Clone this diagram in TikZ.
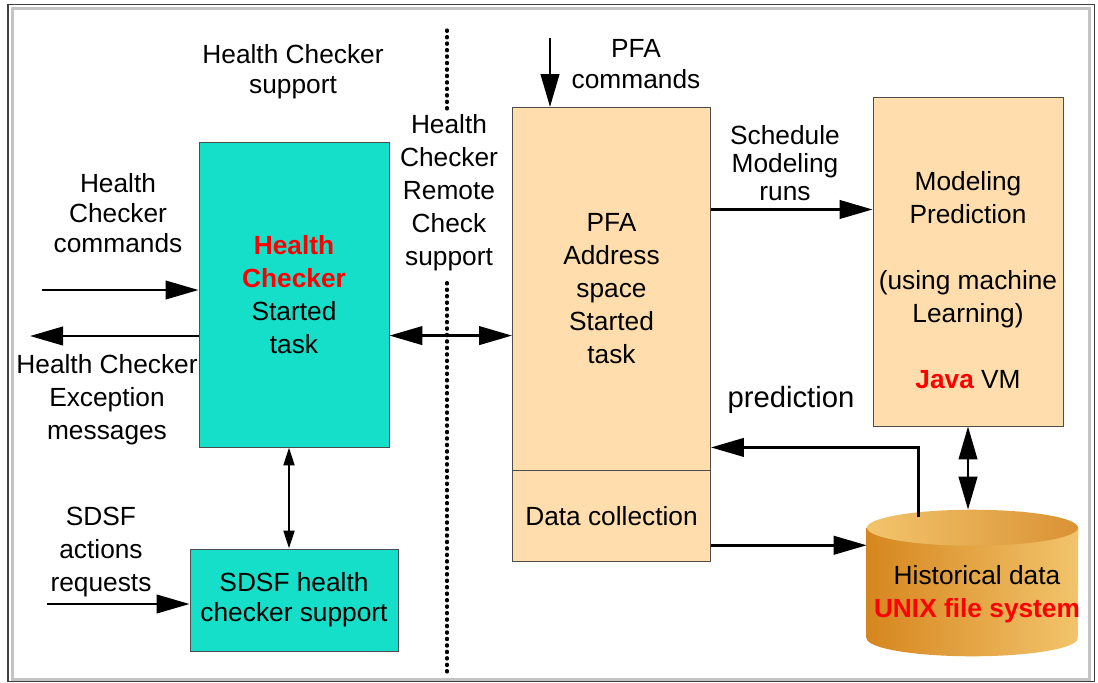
\documentclass[tikz,border=0pt]{standalone}
\usepackage{fontspec}
\setmainfont{Liberation Sans}
\usetikzlibrary{positioning,arrows.meta}
\definecolor{HCTurquesa}{RGB}{22,223,201}
\definecolor{PFACrema}{RGB}{255,221,172}
\definecolor{CilOscuro}{RGB}{214,134,30}
\definecolor{CilClaro}{RGB}{242,196,108}
\definecolor{MarcoGris}{RGB}{195,195,195}
\tikzstyle{HCBase}=[rectangle, draw=black!70, fill=HCTurquesa, line width=0.6pt, align=center]
\tikzstyle{PFABase}=[rectangle, draw=black!70, fill=PFACrema, line width=0.6pt, align=center]
\tikzstyle{Texto}=[align=center, inner sep=0pt]
\tikzstyle{FlechaGruesa}=[-{Triangle[length=8.25mm,width=4.6mm]}, line width=2pt]
\tikzstyle{FlechaDoble}=[{Triangle[length=8.25mm,width=4.6mm]}-{Triangle[length=8.25mm,width=4.6mm]}, line width=2pt]
\tikzstyle{FlechaFina}=[{Triangle[length=4.5mm,width=2.7mm]}-{Triangle[length=4.5mm,width=2.7mm]}, line width=1.8pt]
\tikzstyle{Punteado}=[line width=2.2pt, line cap=round, dash pattern=on 1pt off 3.6pt]
\newcommand{\Rojo}[1]{\textbf{\textcolor{red}{#1}}}

\begin{document}
\begin{tikzpicture}[x=0.25mm, y=-0.25mm, font=\fontsize{18.7}{23.5}\selectfont]
			%Marco
			\useasboundingbox (0,0) rectangle (1098,682);
			\draw[MarcoGris, line width=2pt] (12.5,8.5) rectangle (1089.5,679.5);
			\draw[black!75, line width=1.2pt] (8,4.5) rectangle (1094.5,681.5);

			%Nodos
			\node[HCBase, minimum width=47.5mm, minimum height=76.25mm]		(hc)		at (294,294.5)		{\Rojo{Health}\\\Rojo{Checker}\\Started\\task};
			\node[HCBase, minimum width=52mm, minimum height=25.5mm, font=\fontsize{18.7}{21.5}\selectfont]	(sdsf)	at (294,600)	{SDSF health\\checker support};

			\node[PFABase, minimum width=49.5mm, minimum height=90.625mm]	(pfa)		at (611.5,288.75)	{PFA\\Address\\space\\Started\\task};
			\node[PFABase, minimum width=49.5mm, minimum height=22.75mm]		(dc)		[below=0cm of pfa]	{Data collection};

			\node[PFABase, minimum width=47.5mm, minimum height=82.25mm]		(model)	at (968,261.5)		{\strut\\Modeling\\Prediction\\[\baselineskip](using machine\\Learning)\\[\baselineskip]\Rojo{Java} VM};

			%Cilindro
			\node[minimum width=52.75mm, minimum height=27.5mm, inner sep=0pt]	(hist)	at (972.5,583)		{};
			\shade[left color=CilOscuro, right color=CilClaro] (hist.north west) -- (hist.south west) arc[start angle=180, end angle=360, x radius=26.375mm, y radius=4.5mm] -- (hist.north east) -- cycle;
			\shade[left color=CilClaro, right color=CilOscuro!90] (hist.north) ellipse [x radius=26.375mm, y radius=4.5mm];
			\node[Texto]		(histtxt)	at (977,594.5)		{Historical data\\\Rojo{UNIX file system}};

			%Textos
			\node[Texto, font=\fontsize{18.7}{21.5}\selectfont]	(hcsup)		at (293,72)		{Health Checker\\support};
			\node[Texto, font=\fontsize{18.7}{21.5}\selectfont]	(hccmd)		at (118,213)		{Health\\Checker\\commands};
			\node[Texto]		(hcexc)		at (107,400)		{Health Checker\\Exception\\messages};
			\node[Texto]		(sdsfreq)	at (101,552)		{SDSF\\actions\\requests};
			\node[Texto]		(remote)		at (449,193)		{Health\\Checker\\Remote\\Check\\support};
			\node[Texto, font=\fontsize{18.7}{21.5}\selectfont]	(pfacmd)		at (636,64)		{PFA\\commands};
			\node[Texto, font=\fontsize{18.7}{20}\selectfont]	(sched)		at (785,163)		{Schedule\\Modeling\\runs};
			\node[Texto, font=\fontsize{20.8}{25}\selectfont]	(pred)		at (791,400)		{prediction};

			%Puntos
			\coordinate (hcCmdIn) at (42,290);
			\coordinate (hcExcOut) at (30,336);
			\coordinate (sdsfIn) at (47,604);
			\coordinate (pfaCmdIn) at (550,38);
			\coordinate (hcPfa) at ([yshift=-48.5mm]hc.north east);
			\coordinate (schedOut) at ([yshift=-25.6mm]pfa.north east);
			\coordinate (predIn) at ([yshift=5.75mm]pfa.south east);
			\coordinate (predOut) at ([xshift=-13.6mm,yshift=2.75mm]hist.north);
			\coordinate (dcOut) at ([yshift=4.25mm]dc.south east);
			\coordinate (histTop) at ([yshift=4.5mm]hist.north);
			\coordinate (sepTop) at (447,30);
			\coordinate (sepBot) at (447,672);
			\coordinate (sepA) at ([yshift=1mm]remote.north);
			\coordinate (sepB) at ([yshift=-1.5mm]remote.south);

			%Lineas
			\draw[FlechaGruesa] (hcCmdIn) -- (hcCmdIn -| hc.west);
			\draw[FlechaGruesa] (hcExcOut -| hc.west) -- (hcExcOut);
			\draw[FlechaGruesa] (sdsfIn) -- (sdsfIn -| sdsf.west);
			\draw[FlechaFina] ([xshift=-1.25mm]hc.south) -- ([xshift=-1.25mm]sdsf.north);
			\draw[FlechaDoble] (hcPfa) -- (hcPfa -| pfa.west);
			\draw[FlechaGruesa] (pfaCmdIn) -- (pfaCmdIn |- pfa.north);
			\draw[FlechaGruesa] (schedOut) -- (schedOut -| model.west);
			\draw[FlechaGruesa] (predOut) |- (predIn);
			\draw[FlechaGruesa] (dcOut) -- (dcOut -| hist.west);
			\draw[FlechaDoble] (model.south) -- (model.south |- histTop);

			%Separador
			\draw[Punteado] (sepTop) -- (sepTop |- sepA);
			\draw[Punteado] (sepBot) -- (sepBot |- sepB);

		\end{tikzpicture}
\end{document}
